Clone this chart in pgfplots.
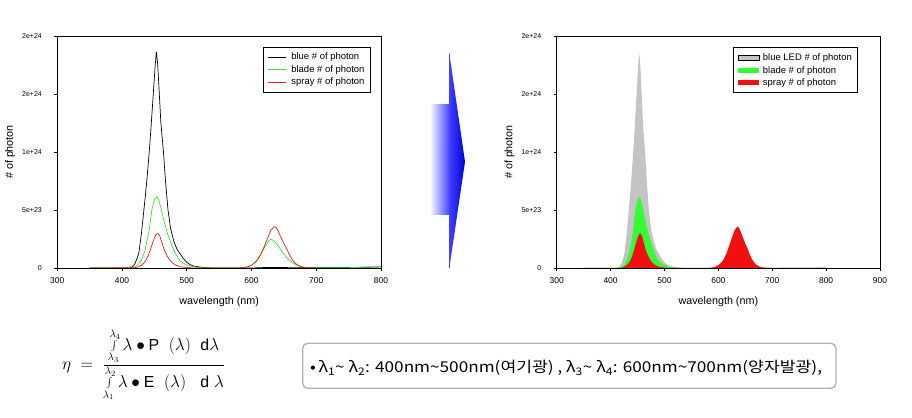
\documentclass[border=0pt]{standalone}
\usepackage{pgfplots}
\pgfplotsset{compat=1.18}
\usepackage{fontspec}
\setmainfont{Liberation Sans}
\newfontfamily\kr[FakeStretch=1.15]{Noto Sans CJK KR}
\definecolor{lgreen}{HTML}{3FDD3F}
\definecolor{lred}{HTML}{DD2020}
\definecolor{fgreen}{HTML}{33FF33}
\definecolor{fred}{HTML}{F01010}
\definecolor{fgray}{HTML}{C4C4C4}
\pgfplotsset{
  myax/.style={
    scale only axis, height=232bp, anchor=south west,
    ymin=0, ymax=20, ytick={0,5,10,15,20},
    yticklabels={0,5e+23,1e+24,2e+24,2e+24},
    tick align=outside, major tick length=3bp,
    xtick pos=bottom, ytick pos=left,
    axis line style={black, line width=0.6pt},
    every tick/.style={black, line width=0.6pt},
    yticklabel style={font=\fontsize{7}{8}\selectfont, xshift=-9bp},
    xticklabel style={font=\fontsize{8.5}{10}\selectfont, yshift=-3bp},
    xlabel={wavelength (nm)}, ylabel={\# of photon},
    every axis x label/.style={at={(axis description cs:0.5,-0.145)}, anchor=center, font=\fontsize{10.8}{12}\selectfont},
    every axis y label/.style={at={(axis description cs:-0.146,0.5)}, anchor=center, rotate=90, font=\fontsize{10.8}{12}\selectfont},
    legend cell align=left,
    legend style={draw=black, line width=0.9pt, font=\fontsize{9.5}{11}\selectfont, anchor=north east,
      inner xsep=4bp, inner ysep=4bp, row sep=0bp},
  }
}
\begin{document}
\begin{tikzpicture}
\path[use as bounding box] (0bp,0bp) rectangle (912bp,418bp);

% ---------------- left chart ----------------
\begin{axis}[myax, at={(57.3bp,150bp)}, width=323.7bp,
  xmin=300, xmax=800, xtick={300,400,500,600,700,800},
  xticklabels={300,400,500,600,700,800},
  legend style={at={(0.969,0.954)}},
  legend image code/.code={\draw[#1, line width=0.8pt] (0bp,0bp) -- (18bp,0bp); \path (21bp,0bp);}]
\addplot[black, line width=0.7pt] coordinates {
(350,0)(380,0)(400,0)(410,0.02)(415,0.08)(418,0.2)(420,0.4)(423,0.8)(426,1.3)
(430,3.0)(433,4.6)(436,6.2)(439,8.0)(442,10.0)(445,12.3)(448,14.8)(451,17.3)
(453,18.65)(455,17.6)(457,15.6)(460,12.5)(464,10.0)(467,7.6)(471,5.0)(475,3.4)
(480,2.3)(485,1.6)(490,1.2)(495,0.8)(500,0.5)(505,0.3)(510,0.18)(520,0.08)
(530,0.03)(540,0)(600,0)(620,0.04)(640,0.05)(660,0.03)(700,0.04)(750,0.05)(780,0.06)(800,0.1)};
\addlegendentry{blue \# of photon}
\addplot[lgreen, line width=0.7pt] coordinates {
(350,0)(400,0)(415,0.02)(420,0.1)(425,0.3)(430,0.7)(435,1.4)(438,2.2)(442,3.3)
(446,5.0)(450,5.9)(454,6.15)(457,5.8)(460,5.2)(462,4.7)(466,3.8)(470,3.0)(474,2.4)
(478,1.8)(482,1.3)(486,0.9)(490,0.6)(495,0.4)(500,0.25)(510,0.1)(520,0.04)(530,0)
(580,0)(590,0.05)(595,0.12)(600,0.25)(605,0.45)(610,0.8)(615,1.25)(620,1.75)(625,2.2)
(629,2.47)(633,2.4)(637,2.2)(641,1.9)(645,1.6)(650,1.2)(655,0.85)(660,0.6)(665,0.4)
(670,0.25)(675,0.15)(680,0.08)(690,0.03)(700,0.02)(750,0.03)(790,0.1)(800,0.15)};
\addlegendentry{blade \# of photon}
\addplot[lred, line width=0.7pt] coordinates {
(350,0)(420,0.02)(425,0.1)(430,0.25)(435,0.5)(440,1.0)(444,1.6)(448,2.3)(452,2.85)
(455,3.0)(458,2.8)(461,2.3)(465,1.6)(470,1.0)(475,0.6)(480,0.35)(485,0.2)(490,0.1)
(500,0.04)(510,0)(580,0)(590,0.05)(595,0.12)(600,0.25)(605,0.45)(610,0.75)(615,1.25)
(620,1.9)(625,2.6)(630,3.25)(635,3.56)(638,3.5)(641,3.2)(645,2.7)(650,2.1)(654,1.7)
(658,1.2)(662,0.8)(666,0.5)(670,0.3)(675,0.15)(680,0.06)(690,0.02)(700,0)};
\addlegendentry{spray \# of photon}
\end{axis}

% ---------------- right chart ----------------
\begin{axis}[myax, at={(556.7bp,150bp)}, width=323.3bp,
  xmin=300, xmax=900, xtick={300,400,500,600,700,800,900},
  xticklabels={300,400,500,600,700,800,900},
  legend style={at={(0.933,0.951)}},
  legend image code/.code={\fill[#1] (0bp,-2.5bp) rectangle (21bp,2.5bp); \path (23bp,0bp);}]
\addplot[fill=fgray, draw=none,
  legend image code/.code={\draw[fill=fgray, draw=black, line width=0.5pt] (0bp,-2.5bp) rectangle (21bp,2.5bp); \path (23bp,0bp);}]
 coordinates {
(350,0)(380,0)(400,0)(410,0.02)(415,0.08)(418,0.2)(420,0.4)(423,0.8)(426,1.3)
(430,3.0)(433,4.6)(436,6.2)(439,8.0)(442,10.0)(445,12.3)(448,14.8)(451,17.3)
(453,18.65)(455,17.6)(457,15.6)(460,12.5)(464,10.0)(467,7.6)(471,5.0)(475,3.4)
(480,2.3)(485,1.6)(490,1.2)(495,0.8)(500,0.5)(505,0.3)(510,0.18)(520,0.08)
(530,0.03)(540,0)(600,0)(620,0.04)(640,0.05)(660,0.03)(700,0.04)(750,0.05)(780,0.06)(800,0.1)} \closedcycle;
\addlegendentry{blue LED \# of photon}
\addplot[fill=fgreen, draw=none] coordinates {
(350,0)(400,0)(415,0.02)(420,0.1)(425,0.3)(430,0.7)(435,1.4)(438,2.2)(442,3.3)
(446,5.0)(450,5.9)(454,6.15)(457,5.8)(460,5.2)(462,4.7)(466,3.8)(470,3.0)(474,2.4)
(478,1.8)(482,1.3)(486,0.9)(490,0.6)(495,0.4)(500,0.25)(510,0.1)(520,0.04)(530,0)} \closedcycle;
\addlegendentry{blade \# of photon}
\addplot[fill=fred, draw=none] coordinates {
(350,0)(420,0.02)(425,0.1)(430,0.25)(435,0.5)(440,1.0)(444,1.6)(448,2.3)(452,2.85)
(455,3.0)(458,2.8)(461,2.3)(465,1.6)(470,1.0)(475,0.6)(480,0.35)(485,0.2)(490,0.1)
(500,0.04)(510,0)(580,0)(590,0.05)(595,0.12)(600,0.25)(605,0.45)(610,0.75)(615,1.25)
(620,1.9)(625,2.6)(630,3.25)(635,3.56)(638,3.5)(641,3.2)(645,2.7)(650,2.1)(654,1.7)
(658,1.2)(662,0.8)(666,0.5)(670,0.3)(675,0.15)(680,0.06)(690,0.02)(700,0)} \closedcycle;
\addlegendentry{spray \# of photon}
\end{axis}

% ---------------- arrow ----------------
\shade[left color=blue!8, right color=blue!75] (431.7bp,313bp) rectangle (450bp,203bp);
\shade[left color=blue!75, right color=blue!85!black] (449.3bp,364.7bp) -- (465bp,256.3bp) -- (449.3bp,149.7bp) -- cycle;

% ---------------- formula ----------------
\node[anchor=west, inner sep=0] at (62bp,53bp) {\fontsize{16}{19}\selectfont
$\eta\;=\;\displaystyle\frac{\int\limits_{\lambda_3}^{\lambda_4}\lambda\bullet\mathrm{P}\;\;(\lambda)\;\;\mathrm{d}\lambda}
{\int\limits_{\lambda_1}^{\lambda_2}\lambda\bullet\mathrm{E}\;\;(\lambda)\;\;\;\mathrm{d}\;\lambda}$};

% ---------------- text box ----------------
\draw[black!30, line width=1.4bp, rounded corners=5bp] (302.7bp,74.7bp) rectangle (836bp,29.7bp);
\node[anchor=base west, inner sep=0] at (310bp,45.3bp) {\kr\fontsize{15}{18}\selectfont
•\,λ\textsubscript{1}\textasciitilde\ λ\textsubscript{2}: 400nm\textasciitilde 500nm(여기광) , λ\textsubscript{3}\textasciitilde\ λ\textsubscript{4}: 600nm\textasciitilde 700nm(양자발광),};
\end{tikzpicture}
\end{document}
